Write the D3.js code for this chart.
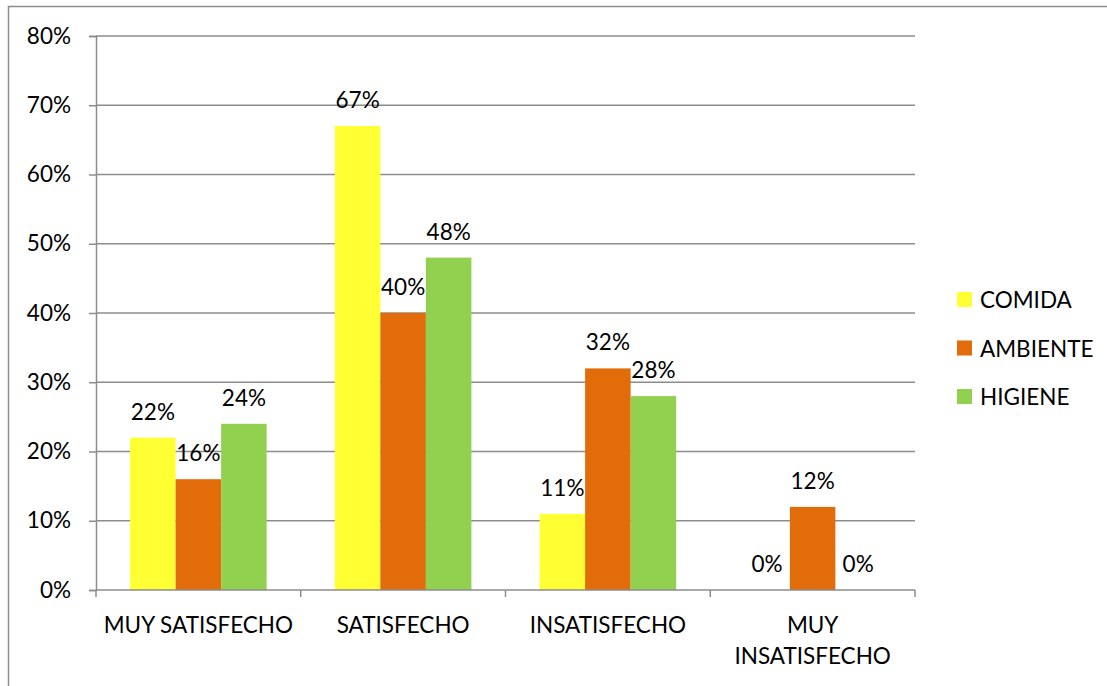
<!DOCTYPE html>
<html>
<head>
<meta charset="utf-8">
<script src="https://cdn.jsdelivr.net/npm/d3@7"></script>
<style>
body{margin:0;background:#fff}
text{font-family:Lato,"Open Sans",sans-serif;fill:#000}
</style>
</head>
<body>
<div id="chart"></div>
<script>
var categories = ['MUY SATISFECHO','SATISFECHO','INSATISFECHO','MUY INSATISFECHO']
var series = ['COMIDA','AMBIENTE','HIGIENE']
var comida = [0.22,0.67,0.11,0]
var ambiente = [0.16,0.40,0.32,0.12]
var higiene = [0.24,0.48,0.28,0]
var yTicks = [0,0.1,0.2,0.3,0.4,0.5,0.6,0.7,0.8]
var colors = ['#FFFF33','#E36C0A','#92D050']

var values = [comida,ambiente,higiene]
var fs = '22.5px'

var svg = d3.select('#chart').append('svg')
.attr('width',1107)
.attr('height',686)

// outer frame
svg.append('rect')
.attr('x',8.5).attr('y',6.5)
.attr('width',1120).attr('height',700)
.attr('fill','none').attr('stroke','#8c8c8c').attr('stroke-width',1.5)

var marginL = 96, marginT = 36, width = 819, height = 554
var g = svg.append('g').attr('transform','translate('+marginL+','+marginT+')')

var y = d3.scaleLinear().domain([0,0.8]).range([height,0])
var x0 = d3.scaleBand().domain(categories).range([0,width]).paddingInner(0.333).paddingOuter(0.1665)
var x1 = d3.scaleBand().domain(series).range([0,x0.bandwidth()])

// gridlines
g.selectAll('.grid').data(yTicks.slice(1)).enter().append('line')
.attr('x1',0).attr('x2',width)
.attr('y1',function(d){return y(d)}).attr('y2',function(d){return y(d)})
.attr('stroke','#8c8c8c').attr('stroke-width',1.5)

// y axis
var yaxis = g.append('g').call(d3.axisLeft(y).tickValues(yTicks).tickFormat(d3.format('.0%')).tickSizeOuter(0).tickSize(7).tickPadding(18))
yaxis.select('.domain').attr('stroke','#8c8c8c').attr('stroke-width',1.5)
yaxis.selectAll('.tick line').attr('stroke','#8c8c8c').attr('stroke-width',1.5)
yaxis.selectAll('text').style('font-size',fs).style('font-family','Lato,"Open Sans",sans-serif')

// bars
var groups = g.selectAll('.grp').data(categories).enter().append('g')
.attr('transform',function(d){return 'translate('+x0(d)+',0)'})

groups.selectAll('rect').data(function(d,i){return series.map(function(s,j){return {s:s,v:values[j][i],c:colors[j]}})})
.enter().append('rect')
.attr('x',function(d){return x1(d.s)})
.attr('y',function(d){return y(d.v)})
.attr('width',x1.bandwidth())
.attr('height',function(d){return height-y(d.v)})
.style('fill',function(d){return d.c})

groups.selectAll('.lbl').data(function(d,i){return series.map(function(s,j){return {s:s,v:values[j][i]}})})
.enter().append('text')
.attr('x',function(d){return x1(d.s)+x1.bandwidth()/2})
.attr('y',function(d){return y(d.v)-18})
.attr('text-anchor','middle')
.style('font-size',fs)
.text(function(d){return Math.round(d.v*100)+'%'})

// x axis
var xaxis = g.append('g').attr('transform','translate(0,'+height+')')
xaxis.append('line').attr('x1',0).attr('x2',width).attr('y1',0).attr('y2',0)
.attr('stroke','#8c8c8c').attr('stroke-width',1.5)
var bounds = [0].concat(categories.map(function(d){return x0(d)+x0.bandwidth()+x0.step()*x0.paddingInner()/2}))
bounds[bounds.length-1] = width
xaxis.selectAll('.xt').data(bounds).enter().append('line')
.attr('x1',function(d){return d}).attr('x2',function(d){return d})
.attr('y1',0).attr('y2',7)
.attr('stroke','#8c8c8c').attr('stroke-width',1.5)

var xl = xaxis.selectAll('.xl').data(categories).enter().append('text')
.attr('x',function(d){return x0(d)+x0.bandwidth()/2})
.attr('y',43)
.attr('text-anchor','middle')
.style('font-size',fs)
xl.each(function(d){
  var t = d3.select(this)
  if(d=='MUY INSATISFECHO'){
    t.append('tspan').attr('x',t.attr('x')).attr('dy',0).text('MUY')
    t.append('tspan').attr('x',t.attr('x')).attr('dy',31).text('INSATISFECHO')
  } else {
    t.text(d)
  }
})

// legend
var leg = svg.append('g').attr('transform','translate(957,292)')
series.forEach(function(s,i){
  leg.append('rect').attr('x',0).attr('y',i*48.5).attr('width',15).attr('height',15).style('fill',colors[i])
  leg.append('text').attr('x',23).attr('y',i*48.5+16).style('font-size',fs).text(s)
})
</script>
</body>
</html>
